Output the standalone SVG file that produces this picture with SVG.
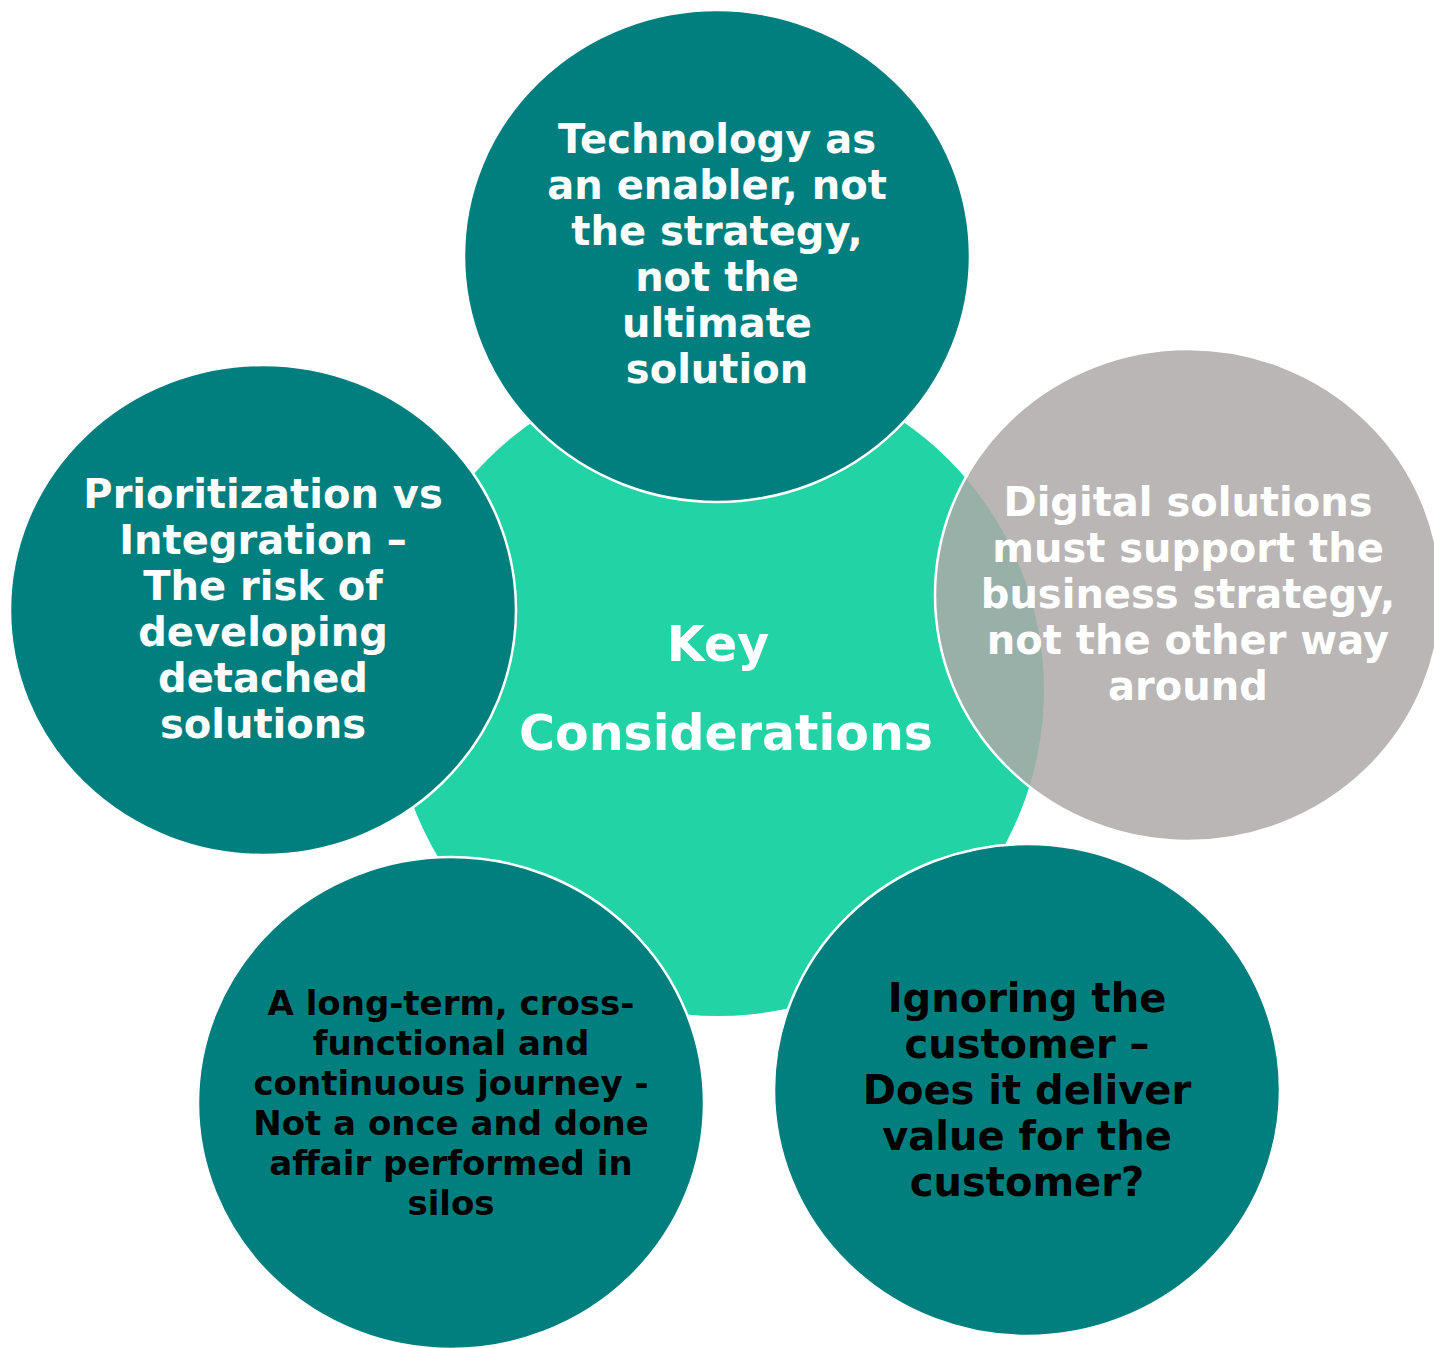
<svg xmlns="http://www.w3.org/2000/svg" width="1434" height="1348" viewBox="0 0 1434 1348">
<style>
.sat{fill:#007F7E;stroke:#ffffff;stroke-width:2.5}
.gray{fill:#AEA9A9;fill-opacity:0.85;stroke:#ffffff;stroke-width:2.5}
.t{font-family:"DejaVu Sans","Liberation Sans",sans-serif;font-weight:bold;text-anchor:middle;font-size:40px}
.w{fill:#ffffff}
.k{fill:#000000}
</style>
<rect width="1434" height="1348" fill="#ffffff"/>
<g id="center">
<circle cx="718" cy="690" r="326" fill="#22D3A5"/>
<text class="t w" x="718" y="661" style="font-size:49px">Key</text>
<text class="t w" x="726" y="750" style="font-size:49px">Considerations</text>
</g>
<g id="top">
<ellipse class="sat" cx="717" cy="256" rx="253" ry="246"/>
<text class="t w"><tspan x="717" y="153">Technology as</tspan><tspan x="717" y="199">an enabler, not</tspan><tspan x="717" y="245">the strategy,</tspan><tspan x="717" y="291">not the</tspan><tspan x="717" y="337">ultimate</tspan><tspan x="717" y="383">solution</tspan></text>
</g>
<g id="left">
<ellipse class="sat" cx="263" cy="610" rx="253" ry="245"/>
<text class="t w"><tspan x="263" y="508">Prioritization vs</tspan><tspan x="263" y="554">Integration –</tspan><tspan x="263" y="600">The risk of</tspan><tspan x="263" y="646">developing</tspan><tspan x="263" y="692">detached</tspan><tspan x="263" y="738">solutions</tspan></text>
</g>
<g id="bottom-left">
<ellipse class="sat" cx="451" cy="1103" rx="253" ry="246"/>
<text class="t k" style="font-size:34px"><tspan x="451" y="1015">A long-term, cross-</tspan><tspan x="451" y="1055">functional and</tspan><tspan x="451" y="1095">continuous journey -</tspan><tspan x="451" y="1135">Not a once and done</tspan><tspan x="451" y="1175">affair performed in</tspan><tspan x="451" y="1215">silos</tspan></text>
</g>
<g id="bottom-right">
<ellipse class="sat" cx="1027" cy="1090" rx="253" ry="246"/>
<text class="t k"><tspan x="1027" y="1012">Ignoring the</tspan><tspan x="1027" y="1058">customer –</tspan><tspan x="1027" y="1104">Does it deliver</tspan><tspan x="1027" y="1150">value for the</tspan><tspan x="1027" y="1196">customer?</tspan></text>
</g>
<g id="right">
<ellipse class="gray" cx="1188" cy="595" rx="253" ry="246"/>
<text class="t w"><tspan x="1188" y="516">Digital solutions</tspan><tspan x="1188" y="562">must support the</tspan><tspan x="1188" y="608">business strategy,</tspan><tspan x="1188" y="654">not the other way</tspan><tspan x="1188" y="700">around</tspan></text>
</g>
<g id="connectors"></g>
</svg>
